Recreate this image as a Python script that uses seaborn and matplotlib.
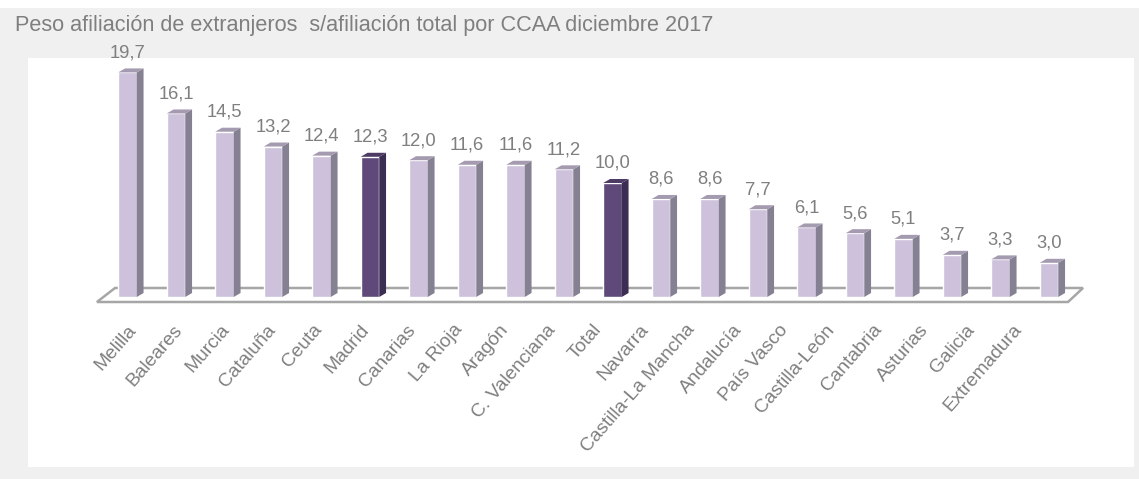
import matplotlib
matplotlib.use("Agg")
import matplotlib.pyplot as plt
from matplotlib.patches import Polygon, Rectangle
import matplotlib.transforms as mtransforms
import seaborn as sns
import pandas as pd

# ---------------- data ----------------
regiones = ["Melilla", "Baleares", "Murcia", "Cataluña", "Ceuta", "Madrid",
            "Canarias", "La Rioja", "Aragón", "C. Valenciana", "Total", "Navarra",
            "Castilla-La Mancha", "Andalucía", "País Vasco", "Castilla-León",
            "Cantabria", "Asturias", "Galicia", "Extremadura"]
peso = [19.7, 16.1, 14.5, 13.2, 12.4, 12.3, 12.0, 11.6, 11.6, 11.2, 10.0,
        8.6, 8.6, 7.7, 6.1, 5.6, 5.1, 3.7, 3.3, 3.0]
destacados = ["Madrid", "Total"]
titulo = "Peso afiliación de extranjeros  s/afiliación total por CCAA diciembre 2017"

# ---------------- style ----------------
sns.set_theme(style="white")
plt.rcParams["font.family"] = ["Liberation Sans", "DejaVu Sans"]

W, H, DPI = 1139, 479, 100
LIGHT_FRONT, LIGHT_SIDE, LIGHT_TOP = "#cdc1dc", "#858092", "#a59bb0"
DARK_FRONT, DARK_SIDE, DARK_TOP = "#5e497a", "#3c2d52", "#4d3b66"
GRAY_TXT = "#7f7f7f"

fig = plt.figure(figsize=(W / DPI, H / DPI), dpi=DPI)
fig.patch.set_facecolor("white")
fig.patches.append(Rectangle((0, 0), 1, 1 - 8 / H, transform=fig.transFigure,
                             facecolor="#f0f0f0", edgecolor="none", zorder=-10))
fig.patches.append(Rectangle((28 / W, (H - 467) / H), (1134 - 28) / W, (467 - 58) / H,
                             transform=fig.transFigure, facecolor="white",
                             edgecolor="none", zorder=-9))
fig.text(15 / W, 1 - 25.5 / H, titulo, ha="left", va="center",
         fontsize=15.6, color=GRAY_TXT)

# axes placement (pixel geometry)
step_px = 48.5          # px per category
unit_px = 11.4          # px per percentage point
x_c0 = 127.5            # px centre of first bar
base_px = 297           # px of value 0
ylo, yhi = -1.0, 20.8
xlo = -(x_c0 - 80) / step_px
xhi = (1100 - x_c0) / step_px
ax_bottom = (H - (base_px - ylo * unit_px)) / H
ax_h = (yhi - ylo) * unit_px / H
ax = fig.add_axes([80 / W, ax_bottom, (1100 - 80) / W, ax_h])
ax.patch.set_alpha(0)

df = pd.DataFrame({"region": regiones, "peso": peso})
df["tipo"] = ["dest" if r in destacados else "norm" for r in regiones]
palette = {"norm": LIGHT_FRONT, "dest": DARK_FRONT}
sns.barplot(data=df, x="region", y="peso", hue="tipo", palette=palette,
            dodge=False, width=18.5 / step_px, legend=False, ax=ax,
            saturation=1, zorder=3)

ax.set_xlim(xlo, xhi)
ax.set_ylim(ylo, yhi)

dx = 6.8 / step_px
dy = 4.0 / unit_px

# floor
fl = [(-0.63, -5 / unit_px), ((1068 - x_c0) / step_px, -5 / unit_px),
      ((1083 - x_c0) / step_px, 9 / unit_px), ((115 - x_c0) / step_px, 9 / unit_px)]
ax.add_patch(Polygon(fl, closed=True, facecolor="white", edgecolor="#a6a6a6",
                     linewidth=1.8, zorder=1))

bars = [p for p in ax.patches if isinstance(p, Rectangle) and p.get_height() > 0]
bars.sort(key=lambda p: p.get_x())
for p, reg in zip(bars, regiones):
    x0 = p.get_x()
    x1 = x0 + p.get_width()
    h = p.get_height()
    dark = reg in destacados
    side_c = DARK_SIDE if dark else LIGHT_SIDE
    top_c = DARK_TOP if dark else LIGHT_TOP
    ax.add_patch(Polygon([(x1, 0), (x1 + dx, dy), (x1 + dx, h + dy), (x1, h)],
                         closed=True, facecolor=side_c, edgecolor="none", zorder=3))
    ax.add_patch(Polygon([(x0, h), (x0 + dx, h + dy), (x1 + dx, h + dy), (x1, h)],
                         closed=True, facecolor=top_c, edgecolor="none", zorder=3))
    ax.annotate(f"{h:.1f}".replace(".", ","), xy=(p.get_x() + p.get_width() / 2, h),
                xytext=(0, 8.0), textcoords="offset points", ha="center",
                va="bottom", fontsize=13.2, color=GRAY_TXT, zorder=5)

for s in ax.spines.values():
    s.set_visible(False)
ax.set_yticks([])
ax.set_xlabel("")
ax.set_ylabel("")
ax.set_xticks(range(len(regiones)))
ax.set_xticklabels([])
ax.tick_params(axis="x", length=0)

# category labels: slightly tighter spacing than the bars, as in the source
lab_step = 46.6 / step_px
lab_x0 = (133.0 - x_c0) / step_px
lab_tr = mtransforms.blended_transform_factory(ax.transData, fig.transFigure)
for i, reg in enumerate(regiones):
    ax.text(lab_x0 + i * lab_step, 1 - 327 / H, reg, transform=lab_tr,
            rotation=49, ha="right", va="center", rotation_mode="anchor",
            fontsize=13.8, color=GRAY_TXT)

fig.savefig("out.png", dpi=DPI, facecolor=fig.get_facecolor())
